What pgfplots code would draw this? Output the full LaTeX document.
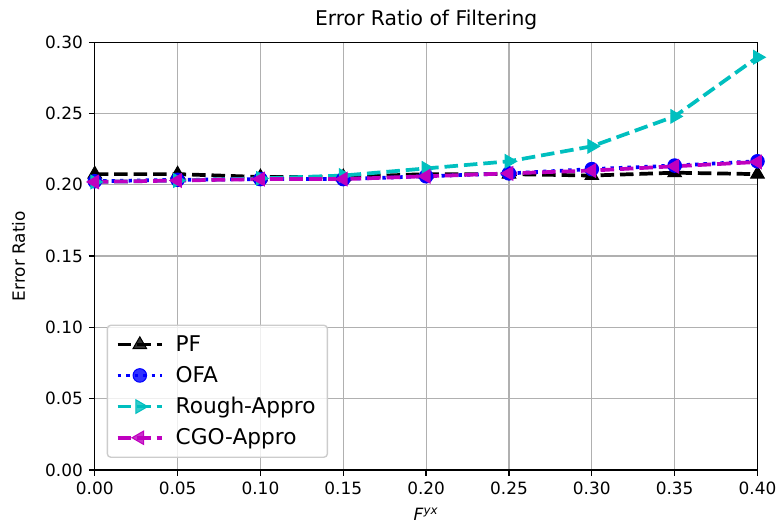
\documentclass[border=0pt]{standalone}
\usepackage{pgfplots}
\pgfplotsset{compat=1.18}
\usepackage{fontspec}
\setmainfont{DejaVu Sans}
\definecolor{mplc}{rgb}{0,0.75,0.75}
\definecolor{mplm}{rgb}{0.75,0,0.75}
\begin{document}
\begin{tikzpicture}
\path[use as bounding box] (-56pt,-34.3pt) rectangle (405pt,277.7pt);
\begin{axis}[
  scale only axis,
  width=391.7pt, height=252.7pt,
  xmin=0, xmax=0.4, ymin=0, ymax=0.3,
  xtick={0,0.05,...,0.401}, ytick={0,0.05,...,0.301},
  xticklabel style={/pgf/number format/.cd,fixed,fixed zerofill,precision=2},
  yticklabel style={/pgf/number format/.cd,fixed,fixed zerofill,precision=2},
  /pgf/number format/assume math mode=true,
  ticklabel style={font=\fontsize{10}{12}\selectfont},
  tick align=outside, tick pos=left,
  major tick length=3.5pt,
  grid=major, grid style={color=black!31, line width=0.7pt},
  axis line style={line width=0.8pt},
  every tick/.style={black, line width=0.8pt},
  title={Error Ratio of Filtering},
  title style={font=\fontsize{12}{14}\selectfont, yshift=-2pt},
  xlabel={\textit{F}\textsuperscript{\textit{yx}}}, ylabel={Error Ratio},
  xlabel style={font=\fontsize{10}{12}\selectfont, yshift=-1pt},
  ylabel style={font=\fontsize{10}{12}\selectfont, yshift=5pt},
  legend style={font=\fontsize{12.8}{15}\selectfont, draw=black!20, rounded corners=2pt, line width=0.8pt, fill=white, fill opacity=0.8, text opacity=1, at={(0.018,0.028)}, anchor=south west, row sep=3.3pt, inner xsep=5pt, inner ysep=4pt, /tikz/every odd column/.append style={column sep=5pt}},
  legend cell align=left,
  legend image code/.code={\draw[mark repeat=2,mark phase=2] plot coordinates {(0cm,0cm) (0.46cm,0cm) (0.92cm,0cm)};},
  every axis plot/.append style={line width=2.2pt},
  clip=false,
]
\addplot[black, dash pattern=on 8pt off 3.5pt, mark=triangle*, mark size=4.6pt, mark options={solid, line width=0.6pt}] coordinates {
(0,0.2075) (0.05,0.2075) (0.10,0.2055) (0.15,0.2055) (0.20,0.2075) (0.25,0.2075) (0.30,0.2065) (0.35,0.2085) (0.40,0.2075)};
\addlegendentry{PF}
\addplot[blue, dash pattern=on 2pt off 3pt, mark=*, mark size=4pt, mark options={solid, line width=0.6pt}] coordinates {
(0,0.2025) (0.05,0.2035) (0.10,0.2040) (0.15,0.2040) (0.20,0.2060) (0.25,0.2080) (0.30,0.2110) (0.35,0.2135) (0.40,0.2165)};
\addlegendentry{OFA}
\addplot[mplc, dash pattern=on 8pt off 3.5pt, mark=triangle*, mark size=4.6pt, mark options={solid, rotate=-90, line width=0.6pt}] coordinates {
(0,0.2020) (0.05,0.2030) (0.10,0.2045) (0.15,0.2065) (0.20,0.2115) (0.25,0.2165) (0.30,0.2270) (0.35,0.2480) (0.40,0.2895)};
\addlegendentry{Rough-Appro}
\addplot[mplm, dash pattern=on 8pt off 3.5pt, mark=triangle*, mark size=4.6pt, mark options={solid, rotate=90, line width=0.6pt}] coordinates {
(0,0.2020) (0.05,0.2030) (0.10,0.2040) (0.15,0.2040) (0.20,0.2060) (0.25,0.2080) (0.30,0.2100) (0.35,0.2130) (0.40,0.2160)};
\addlegendentry{CGO-Appro}
\end{axis}
\end{tikzpicture}
\end{document}
